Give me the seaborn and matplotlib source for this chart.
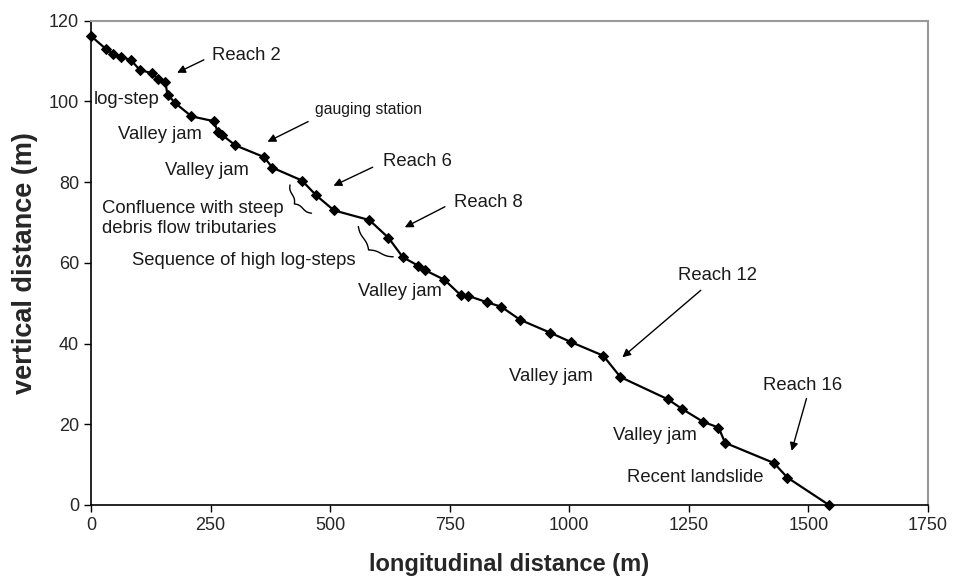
import numpy as np
import pandas as pd
import matplotlib
matplotlib.use('Agg')
import matplotlib.pyplot as plt
import seaborn as sns

# longitudinal profile of the channel
long_dist = [0, 31, 46, 63, 83, 102, 127, 141, 155, 160, 176, 210, 257, 265, 274,
             302, 362, 379, 441, 471, 508, 582, 622, 652, 684, 698, 739, 773, 789,
             829, 858, 897, 960, 1003, 1071, 1107, 1206, 1236, 1280, 1312, 1326,
             1428, 1456, 1543]
vert_dist = [116.2, 113.0, 111.8, 111.0, 110.3, 107.8, 107.0, 105.5, 104.9, 101.7,
             99.6, 96.3, 95.1, 92.4, 91.7, 89.1, 86.2, 83.6, 80.4, 76.7, 73.0, 70.6,
             66.2, 61.4, 59.3, 58.2, 55.8, 52.0, 51.8, 50.2, 49.1, 45.9, 42.7, 40.4,
             37.0, 31.7, 26.2, 23.8, 20.6, 19.2, 15.4, 10.4, 6.8, 0.0]

x_ticks = [0, 250, 500, 750, 1000, 1250, 1500, 1750]
y_ticks = [0, 20, 40, 60, 80, 100, 120]

df = pd.DataFrame({'x': long_dist, 'y': vert_dist})

# plain labels: text, (x, y) in data units, font size
labels = [
    ('log-step', (5, 100.5), 13.3),
    ('Valley jam', (57, 91.9), 13.3),
    ('Valley jam', (155, 82.8), 13.3),
    ('Confluence with steep\ndebris flow tributaries', (22, 71.0), 13.3),
    ('Sequence of high log-steps', (85, 60.7), 13.3),
    ('Valley jam', (558, 53.0), 13.3),
    ('Valley jam', (873, 31.8), 13.3),
    ('Valley jam', (1091, 17.3), 13.3),
    ('Recent landslide', (1120, 6.9), 13.3),
]

# labels with an arrow: text, text pos, arrow tail, arrow head, font size
arrows = [
    ('Reach 2', (252, 111.3), (236, 110.3), (180, 107.1), 13.3),
    ('gauging station', (468, 97.9), (454, 95.0), (369, 90.0), 11.3),
    ('Reach 6', (611, 85.2), (589, 83.7), (507, 79.1), 13.3),
    ('Reach 8', (759, 75.0), (740, 73.9), (656, 68.8), 13.3),
    ('Reach 12', (1227, 56.8), (1275, 53.2), (1111, 36.6), 13.3),
    ('Reach 16', (1406, 29.7), (1496, 26.4), (1465, 13.4), 13.3),
]

# curly braces: end points (data) and depth in pixels
braces = [
    ((416, 79.3), (461, 72.3), 8),
    ((559, 69.0), (632, 61.5), 11),
]

sns.set_style('ticks')
plt.rcParams['font.family'] = ['Liberation Sans', 'DejaVu Sans']

fig = plt.figure(figsize=(9.55, 5.78), dpi=100)
ax = fig.add_axes([0.0953, 0.1263, 0.8764, 0.8379])

sns.lineplot(data=df, x='x', y='y', ax=ax, estimator=None, color='black',
             linewidth=1.6, marker='D', markersize=5, markeredgecolor='black',
             clip_on=False, zorder=5)

ax.set_xlim(0, 1750)
ax.set_ylim(0, 120)
ax.set_xticks(x_ticks)
ax.set_yticks(y_ticks)
ax.tick_params(axis='both', labelsize=13, length=5, width=1, color='black', direction='out')
ax.set_xlabel('longitudinal distance (m)', fontsize=17, fontweight='bold', labelpad=14)
ax.set_ylabel('vertical distance (m)', fontsize=19.5, fontweight='bold', labelpad=8)

for side in ['left', 'bottom']:
    ax.spines[side].set_color('black')
    ax.spines[side].set_linewidth(1.2)
for side in ['top', 'right']:
    ax.spines[side].set_visible(True)
    ax.spines[side].set_color('#9a9a9a')
    ax.spines[side].set_linewidth(1.5)

for txt, pos, fs in labels:
    ax.text(pos[0], pos[1], txt, fontsize=fs, ha='left', va='center', color='#1a1a1a')

for txt, pos, tail, head, fs in arrows:
    ax.text(pos[0], pos[1], txt, fontsize=fs, ha='left', va='center', color='#1a1a1a')
    ax.annotate('', xy=head, xytext=tail,
                arrowprops=dict(arrowstyle='-|>', color='black', lw=1,
                                mutation_scale=12, shrinkA=0, shrinkB=0))


def draw_brace(p1, p2, depth):
    # curly brace between two data points, bulging to the lower left
    a = ax.transData.transform(p1)
    b = ax.transData.transform(p2)
    chord = b - a
    length = np.hypot(*chord)
    u = chord / length
    n = np.array([-u[1], u[0]])
    if n[0] > 0:
        n = -n
    half = np.linspace(0, 0.5, 60)
    beta = 600.0 / max(length, 1)
    yh = 1 / (1 + np.exp(-beta * (half - half[0]))) + 1 / (1 + np.exp(-beta * (half - half[-1])))
    yy = np.concatenate([yh, yh[::-1][1:]]) - 0.5
    tt = np.linspace(0, 1, len(yy))
    pts = a + np.outer(tt, chord) + np.outer(yy * depth, n)
    data_pts = ax.transData.inverted().transform(pts)
    ax.plot(data_pts[:, 0], data_pts[:, 1], color='black', lw=1)


for p1, p2, d in braces:
    draw_brace(p1, p2, d)

fig.savefig('out.png', dpi=100)
